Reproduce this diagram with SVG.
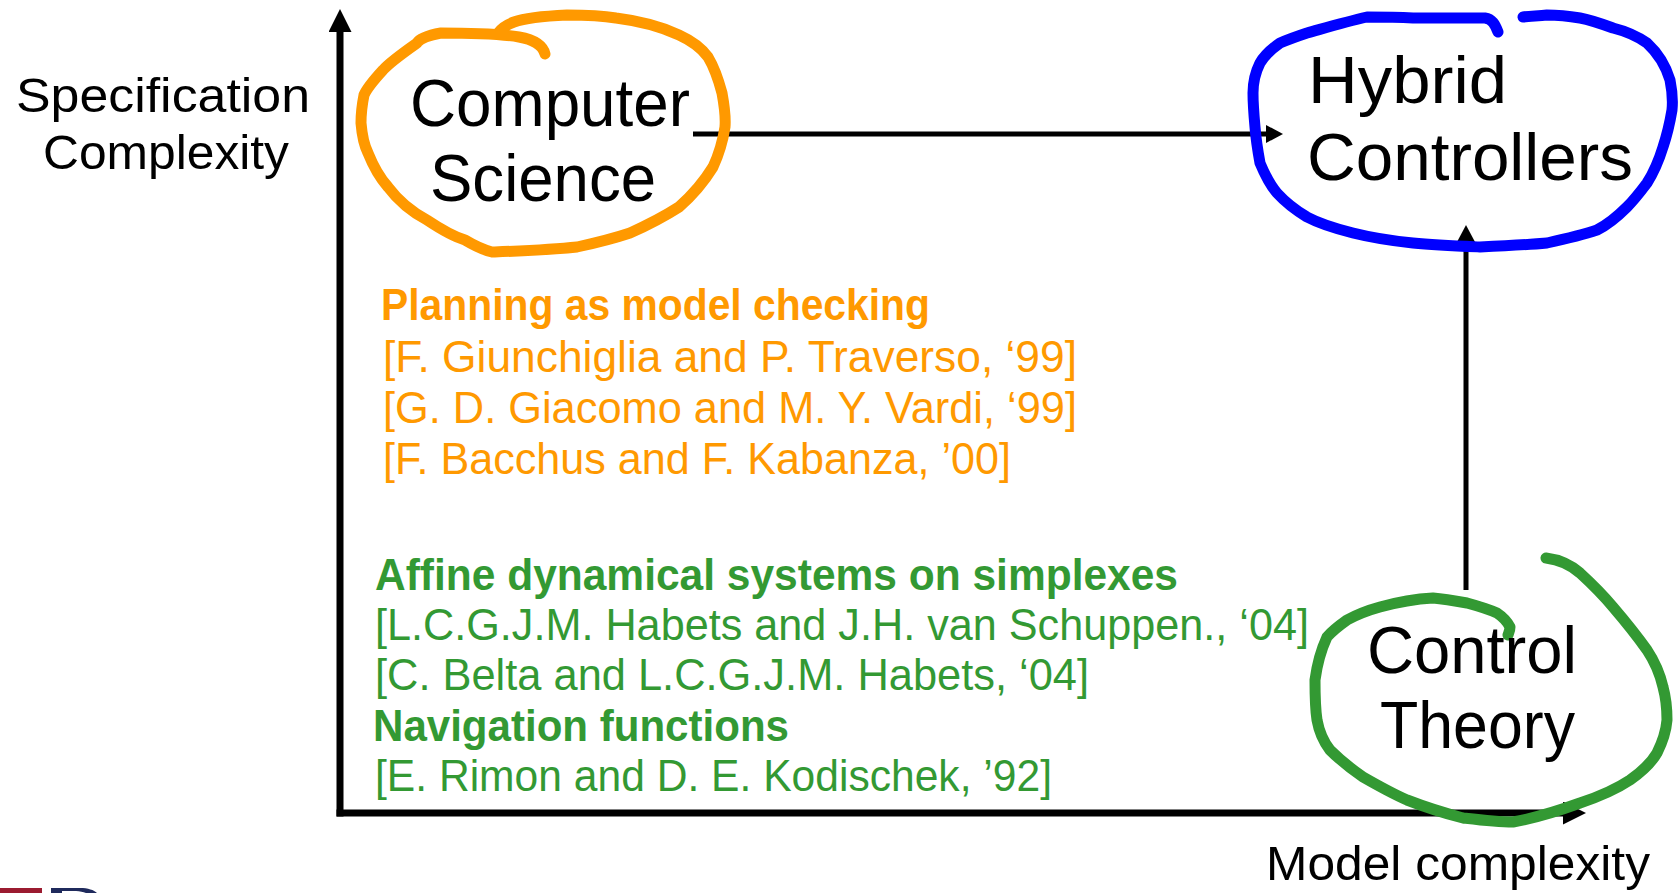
<svg xmlns="http://www.w3.org/2000/svg" width="1678" height="893" viewBox="0 0 1678 893">
  <style>
    .lbl { font-family: "Liberation Sans", "DejaVu Sans", sans-serif; fill: #000; }
    .big { font-size: 66px; }
    .axis { font-size: 48px; }
    .ref { font-family: "Liberation Sans", "DejaVu Sans", sans-serif; font-size: 44px; }
    .head { font-weight: bold; }
    .orange { fill: #FF9900; }
    .green { fill: #339933; }
    .loop { fill: none; stroke-width: 11; stroke-linecap: round; stroke-linejoin: round; }
    .axisline { stroke: #000; stroke-width: 7; fill: none; }
    .conn { stroke: #000; stroke-width: 5; fill: none; }
  </style>
  <defs>
    <marker id="axisHead" markerUnits="userSpaceOnUse" markerWidth="24" markerHeight="24" refX="0" refY="11.5" orient="auto">
      <path d="M0,0 L23,11.5 L0,23 Z" fill="#000"/>
    </marker>
    <marker id="connHead" markerUnits="userSpaceOnUse" markerWidth="18" markerHeight="18" refX="0" refY="9" orient="auto">
      <path d="M0,0 L17,9 L0,18 Z" fill="#000"/>
    </marker>
  </defs>

  <rect width="1678" height="893" fill="#fff"/>

  <!-- axes -->
  <g id="axes">
    <path class="axisline" d="M340,816.5 V32" marker-end="url(#axisHead)"/>
    <path class="axisline" d="M336.5,813 H1563" marker-end="url(#axisHead)"/>
    <text class="lbl axis" x="16" y="112" textLength="294" lengthAdjust="spacingAndGlyphs">Specification</text>
    <text class="lbl axis" x="43" y="169" textLength="246" lengthAdjust="spacingAndGlyphs">Complexity</text>
    <text class="lbl axis" x="1266" y="880" textLength="384" lengthAdjust="spacingAndGlyphs">Model complexity</text>
  </g>

  <!-- connectors between the three fields -->
  <g id="connectors">
    <path class="conn" d="M693,134 H1266" marker-end="url(#connHead)"/>
    <path class="conn" d="M1466,590 V242" marker-end="url(#connHead)"/>
  </g>

  <!-- Computer Science -->
  <g id="computer-science">
    <path class="loop" stroke="#FF9900" d="M545,54 C543,46 536,40 519,37 C500,34 470,33 441,33 C430,35 420,38 417,43 C400,55 390,62 383,70 C372,82 367,88 364,95 C362,105 361,113 361,123 C362,135 364,145 368,153 C374,168 380,178 388,187 C400,203 412,212 427,220 C445,232 455,237 465,240 C475,246 484,250 492,252 C520,251 550,250 577,247 C600,242 615,238 630,233 C650,224 665,216 679,207 C695,193 705,180 713,167 C720,152 723,140 725,127 C726,115 724,104 722,93 C718,78 714,67 708,57 C700,46 690,40 679,35 C660,26 640,21 616,18 C598,15 582,15 567,15 C545,16 525,18 514,22 C506,25 502,28 499,32"/>
    <text class="lbl big" x="410" y="126" textLength="280" lengthAdjust="spacingAndGlyphs">Computer</text>
    <text class="lbl big" x="430" y="201" textLength="226" lengthAdjust="spacingAndGlyphs">Science</text>
  </g>

  <!-- Hybrid Controllers -->
  <g id="hybrid-controllers">
    <path class="loop" stroke="#0000FF" d="M1498,32 C1495,24 1492,19 1485,18 C1470,18 1440,18 1413,18 C1395,17 1380,17 1367,17 C1345,22 1325,28 1307,33 C1295,37 1287,40 1280,43 C1270,50 1264,56 1260,63 C1255,73 1253,83 1253,93 C1253,105 1254,116 1255,127 C1256,140 1258,152 1260,163 C1265,175 1270,185 1277,193 C1287,204 1297,211 1307,217 C1322,225 1337,229 1353,233 C1373,238 1393,241 1413,243 C1435,245 1458,246 1480,247 C1503,246 1525,245 1547,243 C1565,239 1582,235 1597,230 C1609,224 1619,215 1627,207 C1635,199 1641,191 1647,183 C1654,172 1659,160 1663,147 C1667,135 1670,122 1672,110 C1673,100 1672,90 1670,80 C1667,70 1660,55 1647,43 C1637,36 1625,31 1613,28 C1602,24 1591,20 1580,18 C1568,16 1557,15 1547,15 C1538,16 1530,16 1523,17"/>
    <text class="lbl big" x="1308" y="103" textLength="199" lengthAdjust="spacingAndGlyphs">Hybrid</text>
    <text class="lbl big" x="1307" y="180" textLength="326" lengthAdjust="spacingAndGlyphs">Controllers</text>
  </g>

  <!-- Control Theory -->
  <g id="control-theory">
    <path class="loop" stroke="#339933" d="M1546,558 C1562,560 1572,566 1580,573 C1592,584 1603,595 1613,607 C1625,621 1637,636 1647,650 C1655,662 1660,674 1663,687 C1666,698 1667,709 1667,720 C1666,732 1662,743 1657,753 C1650,765 1640,773 1630,780 C1615,790 1598,797 1580,803 C1558,811 1535,818 1513,822 C1496,822 1480,820 1463,818 C1444,813 1425,807 1407,800 C1391,793 1377,785 1363,777 C1350,768 1339,759 1330,750 C1323,741 1319,731 1317,720 C1315,707 1315,694 1315,680 C1317,665 1321,650 1327,637 C1333,630 1340,625 1347,620 C1358,614 1369,610 1380,607 C1398,602 1415,599 1433,598 C1445,599 1456,601 1467,603 C1478,606 1488,609 1497,613 C1503,617 1507,621 1510,627 C1510,630 1509,632 1508,635"/>
    <text class="lbl big" x="1367" y="673" textLength="210" lengthAdjust="spacingAndGlyphs">Control</text>
    <text class="lbl big" x="1380" y="748" textLength="195" lengthAdjust="spacingAndGlyphs">Theory</text>
  </g>

  <!-- planning references -->
  <g id="planning-refs" class="ref orange">
    <text class="head" x="381" y="320" textLength="549" lengthAdjust="spacingAndGlyphs">Planning as model checking</text>
    <text x="383" y="372" textLength="694" lengthAdjust="spacingAndGlyphs">[F. Giunchiglia and P. Traverso, ‘99]</text>
    <text x="383" y="423" textLength="694" lengthAdjust="spacingAndGlyphs">[G. D. Giacomo and M. Y. Vardi, ‘99]</text>
    <text x="383" y="474" textLength="628" lengthAdjust="spacingAndGlyphs">[F. Bacchus and F. Kabanza, ’00]</text>
  </g>

  <!-- control references -->
  <g id="control-refs" class="ref green">
    <text class="head" x="375" y="590" textLength="803" lengthAdjust="spacingAndGlyphs">Affine dynamical systems on simplexes</text>
    <text x="375" y="640" textLength="934" lengthAdjust="spacingAndGlyphs">[L.C.G.J.M. Habets and J.H. van Schuppen., ‘04]</text>
    <text x="375" y="690" textLength="714" lengthAdjust="spacingAndGlyphs">[C. Belta and L.C.G.J.M. Habets, ‘04]</text>
    <text class="head" x="373" y="741" textLength="416" lengthAdjust="spacingAndGlyphs">Navigation functions</text>
    <text x="375" y="791" textLength="677" lengthAdjust="spacingAndGlyphs">[E. Rimon and D. E. Kodischek, ’92]</text>
  </g>

  <!-- logo edge at the lower left -->
  <g id="logo">
    <rect x="0" y="888" width="42" height="5" fill="#9B1B30"/>
    <path d="M51,888 H80 C88,888 94,890 97,893 H86 C83,892 80,891 76,891 H62 V893 H51 Z" fill="#1F2A5C"/>
  </g>
</svg>
